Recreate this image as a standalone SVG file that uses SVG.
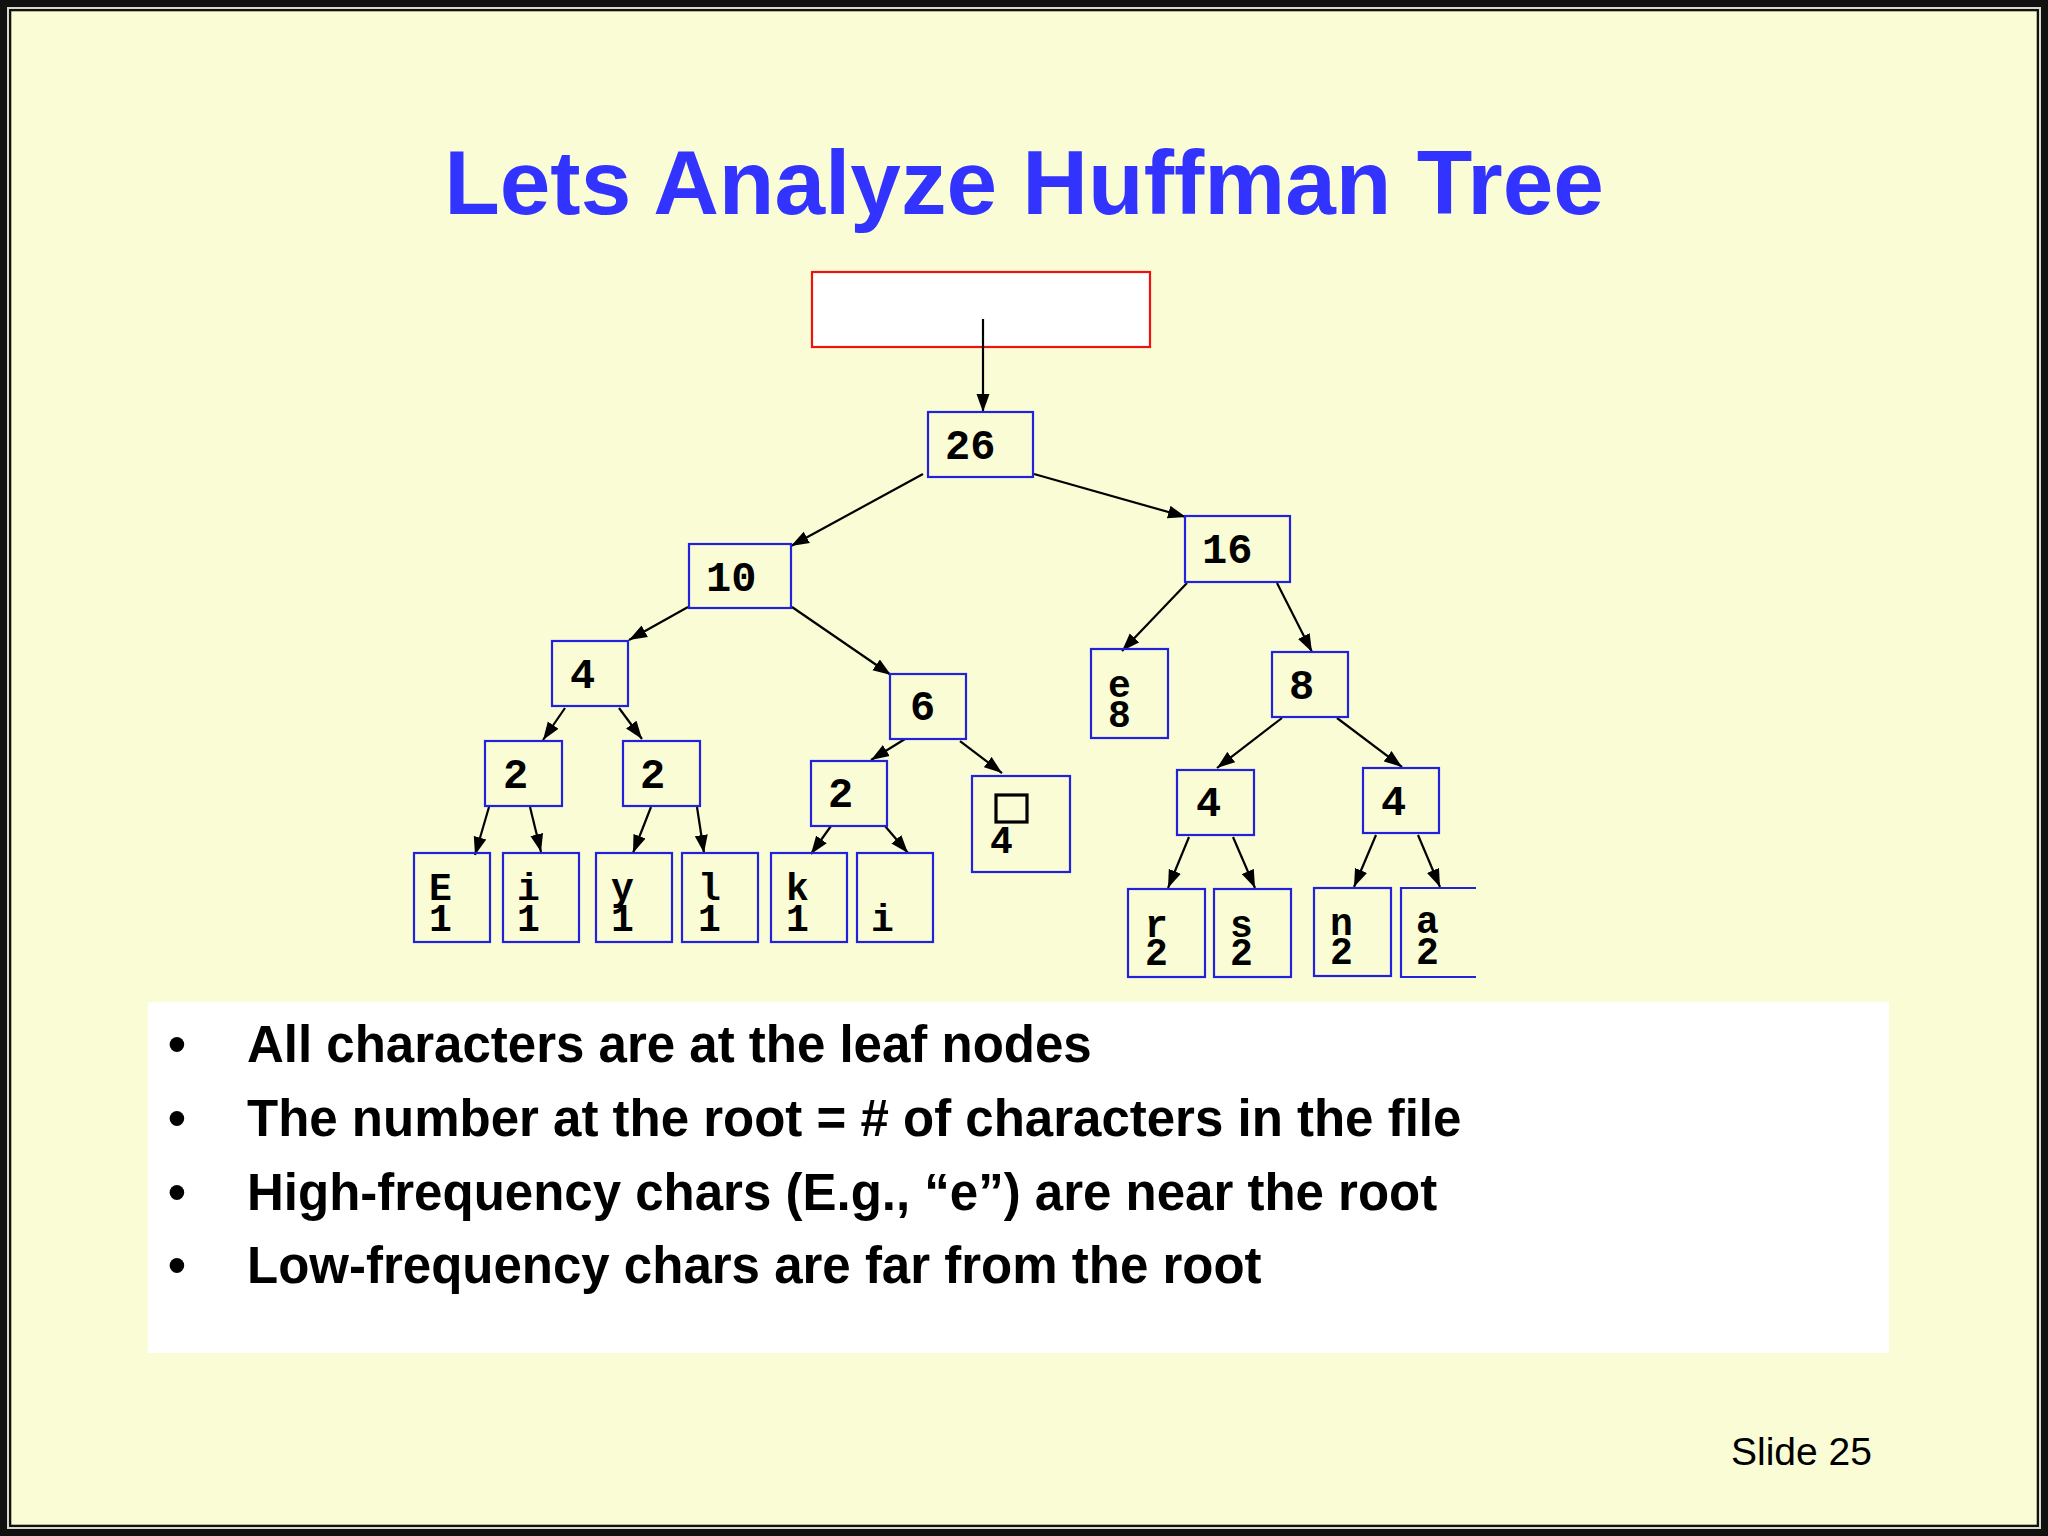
<svg xmlns="http://www.w3.org/2000/svg" width="2048" height="1536" viewBox="0 0 2048 1536">
<defs>
<style>
.box{fill:none;stroke:#2222DD;stroke-width:2.2}
.n{font-family:"Liberation Mono","Courier New",monospace;font-weight:bold;font-size:42px;fill:#000}
.lf{font-family:"Liberation Mono","Courier New",monospace;font-weight:bold;font-size:38px;fill:#000}
.edge{stroke:#000;stroke-width:2.2;fill:none;marker-end:url(#ah)}
.bul{font-family:"Liberation Sans",Arial,sans-serif;font-weight:bold;font-size:51px;fill:#000}
</style>
<marker id="ah" markerUnits="userSpaceOnUse" markerWidth="19" markerHeight="14" refX="18" refY="7" orient="auto">
<path d="M0,0.5 L18,7 L0,13.5 z" fill="#000"/>
</marker>
</defs>
<rect x="0" y="0" width="2048" height="1536" fill="#111"/>
<rect x="7" y="7" width="2034" height="1522" fill="#D8D8C8"/>
<rect x="9" y="9" width="2030" height="1518" fill="#111"/>
<rect x="11.3" y="11.3" width="2025.4" height="1513.4" fill="#FAFCD6"/>

<text x="1024" y="214" text-anchor="middle" font-family="'Liberation Sans',Arial,sans-serif" font-weight="bold" font-size="91" fill="#3333FF">Lets Analyze Huffman Tree</text>

<g id="root-pointer">
<rect x="812" y="272" width="338" height="75" fill="#FFFFFF" stroke="#EE1111" stroke-width="2.2"/>
</g>

<g id="connectors">
<line class="edge" x1="983" y1="319" x2="983" y2="412"/>
<line class="edge" x1="923" y1="474" x2="791" y2="546"/>
<line class="edge" x1="1034" y1="474" x2="1186" y2="517"/>
<line class="edge" x1="688" y1="607" x2="629" y2="640"/>
<line class="edge" x1="792" y1="607" x2="891" y2="675"/>
<line class="edge" x1="1187" y1="583" x2="1122" y2="651"/>
<line class="edge" x1="1277" y1="583" x2="1312" y2="652"/>
<line class="edge" x1="565" y1="708" x2="543" y2="740"/>
<line class="edge" x1="619" y1="708" x2="642" y2="739"/>
<line class="edge" x1="905" y1="739" x2="871" y2="760"/>
<line class="edge" x1="960" y1="741" x2="1002" y2="773"/>
<line class="edge" x1="1282" y1="718" x2="1217" y2="768"/>
<line class="edge" x1="1337" y1="718" x2="1402" y2="767"/>
<line class="edge" x1="489" y1="807" x2="475" y2="855"/>
<line class="edge" x1="530" y1="807" x2="541" y2="852"/>
<line class="edge" x1="651" y1="807" x2="633" y2="853"/>
<line class="edge" x1="697" y1="807" x2="704" y2="853"/>
<line class="edge" x1="831" y1="826" x2="811" y2="854"/>
<line class="edge" x1="885" y1="826" x2="908" y2="853"/>
<line class="edge" x1="1189" y1="837" x2="1168" y2="888"/>
<line class="edge" x1="1233" y1="837" x2="1255" y2="888"/>
<line class="edge" x1="1376" y1="835" x2="1354" y2="887"/>
<line class="edge" x1="1418" y1="835" x2="1440" y2="887"/>
</g>

<g id="node-26"><rect class="box" x="928" y="412" width="105" height="65"/><text class="n" x="945" y="459">26</text></g>
<g id="node-10"><rect class="box" x="689" y="544" width="102" height="64"/><text class="n" x="706" y="591">10</text></g>
<g id="node-16"><rect class="box" x="1185" y="516" width="105" height="66"/><text class="n" x="1202" y="563">16</text></g>
<g id="node-4a"><rect class="box" x="552" y="641" width="76" height="65"/><text class="n" x="570" y="688">4</text></g>
<g id="node-6"><rect class="box" x="890" y="674" width="76" height="65"/><text class="n" x="910" y="720">6</text></g>
<g id="node-e8"><rect class="box" x="1091" y="649" width="77" height="89"/><text class="lf" x="1108" y="697">e</text><text class="lf" x="1108" y="727">8</text></g>
<g id="node-8"><rect class="box" x="1272" y="652" width="76" height="65"/><text class="n" x="1289" y="699">8</text></g>
<g id="node-2a"><rect class="box" x="485" y="741" width="77" height="65"/><text class="n" x="503" y="788">2</text></g>
<g id="node-2b"><rect class="box" x="623" y="741" width="77" height="65"/><text class="n" x="640" y="788">2</text></g>
<g id="node-2c"><rect class="box" x="811" y="761" width="76" height="65"/><text class="n" x="828" y="807">2</text></g>
<g id="node-space4"><rect class="box" x="972" y="776" width="98" height="96"/><rect x="996" y="795" width="31" height="27" fill="none" stroke="#000" stroke-width="3.2"/><text class="lf" x="990" y="853">4</text></g>
<g id="node-4b"><rect class="box" x="1177" y="770" width="77" height="65"/><text class="n" x="1196" y="816">4</text></g>
<g id="node-4c"><rect class="box" x="1363" y="768" width="76" height="65"/><text class="n" x="1381" y="815">4</text></g>
<g id="leaf-E"><rect class="box" x="414" y="853" width="76" height="89"/><text class="lf" x="429" y="900">E</text><text class="lf" x="429" y="931">1</text></g>
<g id="leaf-i"><rect class="box" x="503" y="853" width="76" height="89"/><text class="lf" x="517" y="900">i</text><text class="lf" x="517" y="931">1</text></g>
<g id="leaf-y"><rect class="box" x="596" y="853" width="76" height="89"/><text class="lf" x="611" y="900">y</text><text class="lf" x="611" y="931">1</text></g>
<g id="leaf-l"><rect class="box" x="682" y="853" width="76" height="89"/><text class="lf" x="698" y="900">l</text><text class="lf" x="698" y="931">1</text></g>
<g id="leaf-k"><rect class="box" x="771" y="853" width="76" height="89"/><text class="lf" x="786" y="900">k</text><text class="lf" x="786" y="931">1</text></g>
<g id="leaf-i2"><rect class="box" x="857" y="853" width="76" height="89"/><text class="lf" x="871" y="931">i</text></g>
<g id="leaf-r"><rect class="box" x="1128" y="889" width="77" height="88"/><text class="lf" x="1145" y="937">r</text><text class="lf" x="1145" y="965">2</text></g>
<g id="leaf-s"><rect class="box" x="1214" y="889" width="77" height="88"/><text class="lf" x="1230" y="937">s</text><text class="lf" x="1230" y="965">2</text></g>
<g id="leaf-n"><rect class="box" x="1314" y="888" width="77" height="88"/><text class="lf" x="1330" y="935">n</text><text class="lf" x="1330" y="964">2</text></g>
<g id="leaf-a"><path class="box" d="M1476,888 H1401 V977 H1476"/><text class="lf" x="1416" y="933">a</text><text class="lf" x="1416" y="964">2</text></g>

<g id="bullets">
<rect x="148" y="1002" width="1741" height="351" fill="#FEFFFE"/>
<text class="bul" x="168" y="1062">•</text><text class="bul" x="247" y="1062">All characters are at the leaf nodes</text>
<text class="bul" x="168" y="1136">•</text><text class="bul" x="247" y="1136">The number at the root = # of characters in the file</text>
<text class="bul" x="168" y="1210">•</text><text class="bul" x="247" y="1210">High-frequency chars (E.g., “e”) are near the root</text>
<text class="bul" x="168" y="1283">•</text><text class="bul" x="247" y="1283">Low-frequency chars are far from the root</text>
</g>

<text x="1731" y="1465" font-family="'Liberation Sans',Arial,sans-serif" font-size="39" fill="#000">Slide 25</text>
</svg>
